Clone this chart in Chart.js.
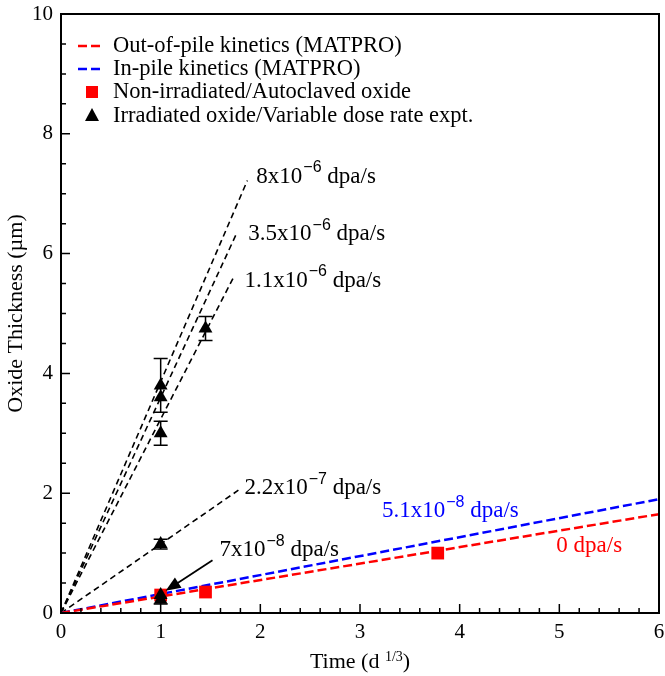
<!DOCTYPE html>
<html>
<head>
<meta charset="utf-8">
<script src="https://cdn.jsdelivr.net/npm/chart.js@4/dist/chart.umd.min.js"></script>
<style>
  html, body { margin: 0; padding: 0; background: #fff; }
</style>
</head>
<body>
<canvas id="chart" width="665" height="676"></canvas>
<script>
/* data */
const outPile = [{x:0, y:0}, {x:6, y:1.65}];
const inPile  = [{x:0, y:0}, {x:6, y:1.9}];
const nonIrr  = [{x:1.0, y:0.3}, {x:1.45, y:0.35}, {x:3.78, y:1.0}];
const irr     = [{x:1, y:3.8}, {x:1, y:3.6}, {x:1, y:3.0}, {x:1.45, y:4.75}, {x:1, y:1.15}, {x:1, y:0.3}, {x:1, y:0.22}];
const irrErr  = [[3.35, 4.25], null, [2.8, 3.2], [4.55, 4.95], [1.07, 1.23], null, [0.15, 0.3]];
const rate8e6   = [{x:0, y:0}, {x:1.87, y:7.22}];
const rate35e6  = [{x:0, y:0}, {x:1.76, y:6.33}];
const rate11e6  = [{x:0, y:0}, {x:1.73, y:5.6}];
const rate22e7  = [{x:0, y:0}, {x:1.78, y:2.05}];

const legendLabels = ['Out-of-pile kinetics (MATPRO)', 'In-pile kinetics (MATPRO)',
  'Non-irradiated/Autoclaved oxide', 'Irradiated oxide/Variable dose rate expt.'];

/* rate labels: [base, exponent, colour, x, y] in data units */
const rateNotes = [
  ['8x10', '\u22126', '#000', 1.96, 7.28],
  ['3.5x10', '\u22126', '#000', 1.88, 6.32],
  ['1.1x10', '\u22126', '#000', 1.84, 5.55],
  ['2.2x10', '\u22127', '#000', 1.84, 2.08],
  ['5.1x10', '\u22128', '#0000ff', 3.22, 1.7],
  ['0', '', '#ff0000', 4.97, 1.12],
  ['7x10', '\u22128', '#000', 1.59, 1.05]
];
const arrowFrom = {x:1.52, y:0.88}, arrowTo = {x:1.05, y:0.37};

const F = '"Liberation Serif", "Times New Roman", serif';
const FS = '"Liberation Sans", Arial, sans-serif';

function noteText(ctx, x, y, base, exp, color){
  ctx.fillStyle = color;
  ctx.textBaseline = 'middle';
  ctx.textAlign = 'left';
  let cx = x;
  ctx.font = '23px ' + F;
  ctx.fillText(base, cx, y); cx += ctx.measureText(base).width;
  if (exp){
    ctx.font = '16px ' + FS;
    ctx.fillText(exp, cx + 1, y - 9); cx += ctx.measureText(exp).width + 1;
  }
  ctx.font = '23px ' + F;
  ctx.fillText(' dpa/s', cx, y);
}

const decor = {
  id: 'decor',
  beforeDatasetsDraw(c){
    const {ctx, scales:{x, y}} = c;
    ctx.save();
    ctx.strokeStyle = '#000'; ctx.lineWidth = 1.5;
    irr.forEach((p, i) => {
      const e = irrErr[i];
      if (!e) return;
      const px = x.getPixelForValue(p.x), lo = y.getPixelForValue(e[0]), hi = y.getPixelForValue(e[1]);
      ctx.beginPath();
      ctx.moveTo(px, lo); ctx.lineTo(px, hi);
      ctx.moveTo(px - 7, lo); ctx.lineTo(px + 7, lo);
      ctx.moveTo(px - 7, hi); ctx.lineTo(px + 7, hi);
      ctx.stroke();
    });
    ctx.restore();
  },
  afterDatasetsDraw(c){
    const {ctx, scales:{x, y}} = c;
    ctx.save();
    rateNotes.forEach(([b, e, col, dx, dy]) => noteText(ctx, x.getPixelForValue(dx), y.getPixelForValue(dy), b, e, col));
    /* arrow */
    const x1 = x.getPixelForValue(arrowFrom.x), y1 = y.getPixelForValue(arrowFrom.y);
    const x2 = x.getPixelForValue(arrowTo.x), y2 = y.getPixelForValue(arrowTo.y);
    const a = Math.atan2(y2 - y1, x2 - x1);
    ctx.strokeStyle = '#000'; ctx.fillStyle = '#000'; ctx.lineWidth = 1.8;
    ctx.beginPath(); ctx.moveTo(x1, y1); ctx.lineTo(x2 - 8*Math.cos(a), y2 - 8*Math.sin(a)); ctx.stroke();
    ctx.beginPath();
    ctx.moveTo(x2, y2);
    ctx.lineTo(x2 - 15*Math.cos(a) + 6*Math.sin(a), y2 - 15*Math.sin(a) - 6*Math.cos(a));
    ctx.lineTo(x2 - 15*Math.cos(a) - 6*Math.sin(a), y2 - 15*Math.sin(a) + 6*Math.cos(a));
    ctx.closePath(); ctx.fill();
    ctx.restore();
  },
  afterDraw(c){
    const {ctx, chartArea:ca, scales:{x, y}} = c;
    ctx.save();
    /* frame */
    ctx.strokeStyle = '#000'; ctx.lineWidth = 2;
    ctx.strokeRect(ca.left, ca.top, ca.right - ca.left, ca.bottom - ca.top);
    /* inward ticks */
    ctx.lineWidth = 1.5;
    ctx.beginPath();
    for (let v = 0; v <= 6.001; v += 0.2){
      const p = x.getPixelForValue(v), major = Math.abs(v - Math.round(v)) < 1e-6;
      ctx.moveTo(p, ca.bottom); ctx.lineTo(p, ca.bottom - (major ? 9 : 5));
    }
    for (let v = 0; v <= 10.001; v += 0.5){
      const p = y.getPixelForValue(v), major = Math.abs(v/2 - Math.round(v/2)) < 1e-6;
      ctx.moveTo(ca.left, p); ctx.lineTo(ca.left + (major ? 9 : 5), p);
    }
    ctx.stroke();
    /* axis titles */
    ctx.fillStyle = '#000';
    ctx.textBaseline = 'middle';
    ctx.font = '22px ' + F;
    const cx = (ca.left + ca.right) / 2;
    const t1 = 'Time (d ', t2 = '1/3', t3 = ')';
    const w1 = ctx.measureText(t1).width, w3 = ctx.measureText(t3).width;
    ctx.font = '14px ' + F;
    const w2 = ctx.measureText(t2).width;
    let tx = cx - (w1 + w2 + w3) / 2;
    ctx.textAlign = 'left';
    ctx.font = '22px ' + F; ctx.fillText(t1, tx, 662); tx += w1;
    ctx.font = '14px ' + F; ctx.fillText(t2, tx, 657); tx += w2;
    ctx.font = '22px ' + F; ctx.fillText(t3, tx, 662);
    ctx.save();
    ctx.translate(16, (ca.top + ca.bottom) / 2);
    ctx.rotate(-Math.PI / 2);
    ctx.textAlign = 'center';
    ctx.fillText('Oxide Thickness (\u00b5m)', 0, 0);
    ctx.restore();
    /* legend */
    const rows = [ca.top + 32, ca.top + 55, ca.top + 78, ca.top + 102];
    const lx = ca.left + 17;
    ctx.lineWidth = 2.5;
    ['#ff0000', '#0000ff'].forEach((col, i) => {
      ctx.strokeStyle = col;
      ctx.setLineDash([9, 4]);
      ctx.beginPath(); ctx.moveTo(lx, rows[i]); ctx.lineTo(lx + 26, rows[i]); ctx.stroke();
    });
    ctx.setLineDash([]);
    ctx.fillStyle = '#ff0000';
    ctx.fillRect(lx + 8, rows[2] - 6, 12, 12);
    ctx.fillStyle = '#000';
    ctx.beginPath();
    ctx.moveTo(lx + 14, rows[3] - 8); ctx.lineTo(lx + 21, rows[3] + 5); ctx.lineTo(lx + 7, rows[3] + 5);
    ctx.closePath(); ctx.fill();
    ctx.font = '22.5px ' + F;
    ctx.textAlign = 'left';
    legendLabels.forEach((t, i) => ctx.fillText(t, ca.left + 52, rows[i]));
    ctx.restore();
  }
};

const dashLine = (data, color, width, dash) => ({
  data, showLine: true, borderColor: color, borderWidth: width, borderDash: dash,
  pointRadius: 0, fill: false, order: 2
});

const noPad = s => { s.paddingLeft = 0; s.paddingRight = 0; s.paddingTop = 0; s.paddingBottom = 0; };

new Chart(document.getElementById('chart'), {
  type: 'scatter',
  data: {
    datasets: [
      dashLine(outPile, '#ff0000', 2.5, [9, 4]),
      dashLine(inPile, '#0000ff', 2.5, [9, 4]),
      dashLine(rate8e6, '#000', 1.6, [6, 4]),
      dashLine(rate35e6, '#000', 1.6, [6, 4]),
      dashLine(rate11e6, '#000', 1.6, [6, 4]),
      dashLine(rate22e7, '#000', 1.6, [6, 4]),
      { data: nonIrr, pointStyle: 'rect', pointRadius: 9, backgroundColor: '#ff0000', borderColor: '#ff0000', borderWidth: 0, order: 1 },
      { data: irr, pointStyle: 'triangle', pointRadius: 8, backgroundColor: '#000', borderColor: '#000', borderWidth: 0, order: 0 }
    ]
  },
  options: {
    responsive: false,
    animation: false,
    layout: { autoPadding: false, padding: { top: 14, right: 6, left: 0, bottom: 0 } },
    plugins: { legend: { display: false }, tooltip: { enabled: false } },
    scales: {
      x: {
        type: 'linear', min: 0, max: 6,
        grid: { display: false, drawTicks: false }, border: { display: false },
        ticks: { stepSize: 1, color: '#000', padding: 7, font: { family: F, size: 21 } },
        afterFit: s => { s.height = 63; noPad(s); }
      },
      y: {
        type: 'linear', min: 0, max: 10,
        grid: { display: false, drawTicks: false }, border: { display: false },
        ticks: { stepSize: 2, color: '#000', padding: 8, font: { family: F, size: 21 } },
        afterFit: s => { s.width = 61; noPad(s); }
      }
    }
  },
  plugins: [decor]
});
</script>
</body>
</html>
